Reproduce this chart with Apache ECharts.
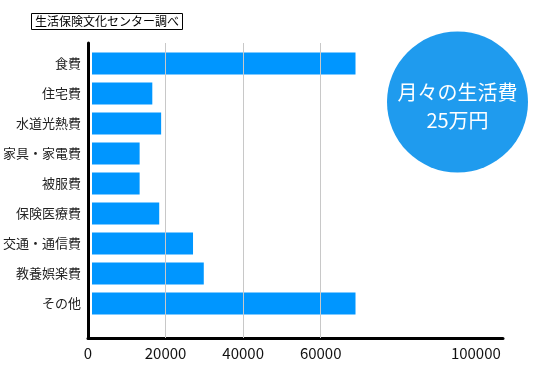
<!DOCTYPE html>
<html>
<head>
<meta charset="utf-8">
<script src="https://cdn.jsdelivr.net/npm/echarts@6/dist/echarts.min.js"></script>
<style>
html,body{margin:0;padding:0;background:#fff;}
#chart{width:533px;height:365px;}
</style>
</head>
<body>
<div id="chart"></div>
<script>
// ---- data ----
const categories = ['食費', '住宅費', '水道光熱費', '家具・家電費', '被服費', '保険医療費', '交通・通信費', '教養娯楽費', 'その他'];
const values = [68600, 15700, 18000, 12400, 12400, 17500, 26300, 29100, 68600];
const tickLabels = [0, 20000, 40000, 60000, 100000];
const gridValues = [20000, 40000, 60000];
const sourceNote = '生活保険文化センター調べ';
const badgeLines = ['月々の生活費', '25万円'];
const axisMax = 107000;

const JP = '"Noto Sans CJK JP", "Noto Sans", sans-serif';

const chart = echarts.init(document.getElementById('chart'), null, {renderer: 'canvas'});
chart.setOption({
  animation: false,
  backgroundColor: '#fff',
  title: {
    text: sourceNote,
    left: 31,
    top: 13,
    borderColor: '#000',
    borderWidth: 1,
    padding: [2, 4],
    textStyle: {fontSize: 12, fontWeight: 'normal', color: '#000', fontFamily: JP, lineHeight: 13}
  },
  grid: [
    {left: 88, right: 30, top: 43, bottom: 27, containLabel: false},
    {left: 88, right: 30, top: 48.5, bottom: 46.5, containLabel: false}
  ],
  xAxis: [
    {
      gridIndex: 0, type: 'value', min: 0, max: axisMax, interval: 20000,
      axisLine: {show: true, onZero: false, lineStyle: {color: '#000', width: 3}},
      axisTick: {show: false},
      splitLine: {show: false},
      axisLabel: {
        show: true, margin: 8, color: '#111', fontSize: 15, fontFamily: JP,
        showMaxLabel: false,
        formatter: function (v) { return tickLabels.indexOf(v) >= 0 ? String(v) : ''; }
      }
    },
    {
      gridIndex: 1, type: 'value', min: 0, max: axisMax, interval: 20000,
      show: false
    }
  ],
  yAxis: [
    {
      gridIndex: 0, type: 'value', min: 0, max: 1,
      axisLine: {show: true, onZero: false, lineStyle: {color: '#000', width: 3}},
      axisTick: {show: false}, axisLabel: {show: false}, splitLine: {show: false}
    },
    {
      gridIndex: 1, type: 'category', inverse: true, data: categories,
      axisLine: {show: false}, axisTick: {show: false}, splitLine: {show: false},
      axisLabel: {margin: 11, color: '#222', fontSize: 13, fontFamily: JP}
    }
  ],
  series: [
    {
      type: 'line', xAxisIndex: 0, yAxisIndex: 0, data: [], silent: true,
      markLine: {
        silent: true, symbol: 'none', animation: false,
        label: {show: false},
        lineStyle: {color: '#c8c8c8', width: 1, type: 'solid'},
        emphasis: {disabled: true},
        data: gridValues.map(v => ({xAxis: v}))
      }
    },
    {
      type: 'bar', xAxisIndex: 1, yAxisIndex: 1, data: values,
      barWidth: 22, z: 3,
      itemStyle: {color: '#0096ff'}
    }
  ],
  graphic: [
    {type: 'circle', shape: {cx: 457.5, cy: 102, r: 70.5}, style: {fill: '#1f9bee'}, z: 10},
    {type: 'text', x: 457.5, y: 106, z: 11,
     style: {text: badgeLines.join('\n'), align: 'center', verticalAlign: 'middle', fill: '#fff',
             font: '20px ' + JP, lineHeight: 28}}
  ]
});
</script>
</body>
</html>
